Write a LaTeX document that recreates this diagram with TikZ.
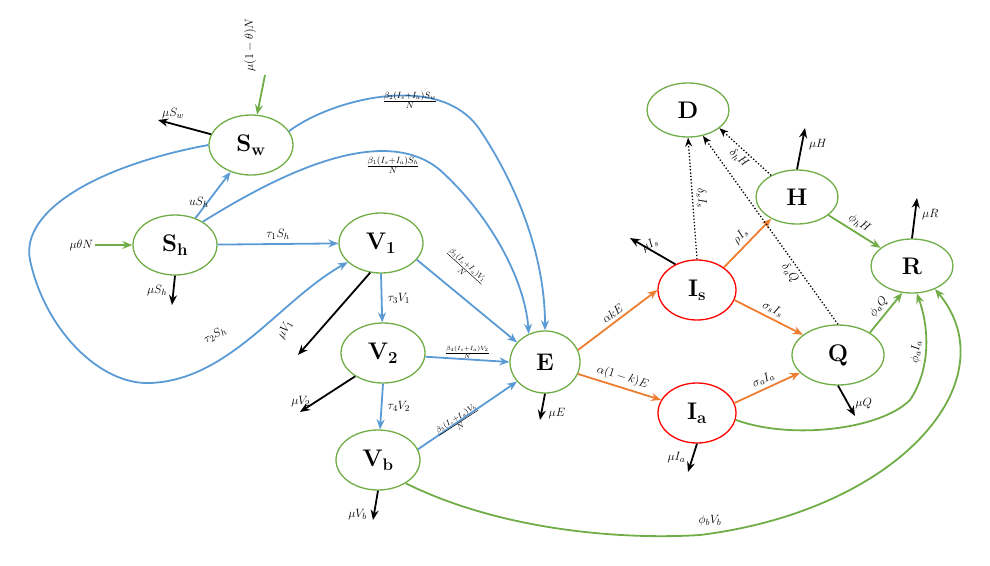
\documentclass[tikz,border=0pt]{standalone}
\usepackage{amsmath}
\usetikzlibrary{arrows.meta,shapes.geometric,positioning}
\begin{document}
\begin{tikzpicture}[x=1pt,y=-1pt,
 every node/.style={font=\fontsize{13}{15}\selectfont},
 gn/.style={draw={rgb,255:red,112;green,173;blue,71}, line width=1.3pt, ellipse, minimum width=84pt, minimum height=60pt, inner sep=0pt, font=\fontsize{24}{26}\selectfont\bfseries},
 rn/.style={gn, draw=red},
 bl/.style={draw={rgb,255:red,91;green,155;blue,213}, line width=1.8pt, -{Stealth[length=10pt,width=8pt]}},
 og/.style={bl, draw={rgb,255:red,237;green,125;blue,49}},
 gr/.style={bl, draw={rgb,255:red,112;green,173;blue,71}},
 bk/.style={bl, draw=black},
 dt/.style={draw=black, line width=1.3pt, dotted, -{Stealth[length=9pt,width=7pt]}},
 lb/.style={inner sep=1pt}]
\useasboundingbox (0,0) rectangle (990,565);
% nodes
\node[gn] (Sw) at (251,145) {S\textsubscript{w}};
\node[gn] (Sh) at (175,245) {S\textsubscript{h}};
\node[gn] (V1) at (381,243) {V\textsubscript{1}};
\node[gn] (V2) at (383,353) {V\textsubscript{2}};
\node[gn] (Vb) at (378,460) {V\textsubscript{b}};
\node[gn,minimum width=70pt,minimum height=62pt] (E) at (545,362) {E};
\node[rn,minimum width=78pt] (Is) at (697,290) {I\textsubscript{s}};
\node[rn,minimum width=78pt] (Ia) at (697,413) {I\textsubscript{a}};
\node[gn,minimum width=82pt,minimum height=54pt] (D) at (688,110) {D};
\node[gn,minimum width=82pt,minimum height=54pt] (H) at (797,197) {H};
\node[gn,minimum width=82pt,minimum height=54pt] (R) at (912,266) {R};
\node[gn,minimum width=92pt] (Q) at (838,355) {Q};
% free coordinates
\coordinate (a0) at (95,245);
\coordinate (a1) at (265,75);
\coordinate (a2) at (158,120);
\coordinate (a3) at (172,305);
\coordinate (a4) at (298,355);
\coordinate (a5) at (300,412);
\coordinate (a6) at (373,520);
\coordinate (a7) at (540,420);
\coordinate (a8) at (630,238);
\coordinate (a9) at (805,128);
\coordinate (a10) at (917,198);
\coordinate (a11) at (688,472);
\coordinate (a12) at (855,416);
% inflows and deaths
\draw[gr] (a0) -- (Sh) node[pos=0,left,lb] {$\mu\theta N$};
\draw[gr] (a1) -- (Sw);
\node[rotate=90] at (250,45) {$\mu(1-\theta)N$};
\draw[bk] (Sw) -- (a2) node[pos=1,above right=-3pt and 0pt] {$\mu S_w$};
\draw[bk] (Sh.south) -- (a3) node[pos=0.5,left=2pt] {$\mu S_h$};
\draw[bk] (V1.250) -- (a4);
\node[rotate=60] at (285,330) {$\mu V_1$};
\draw[bk] (V2.220) -- (a5) node[pos=0.7,left=2pt] {$\mu V_2$};
\draw[bk] (Vb.south) -- (a6) node[pos=0.8,left=3pt] {$\mu V_b$};
\draw[bk] (E.south) -- (a7) node[pos=0.9,right=4pt,yshift=4pt] {$\mu E$};
\draw[bk] (Is.130) -- (a8);
\node[rotate=30] at (650,245) {$\mu I_s$};
\draw[bk] (H.north) -- (a9) node[pos=0.6,right=3pt] {$\mu H$};
\draw[bk] (R.north) -- (a10) node[pos=0.6,right=3pt] {$\mu R$};
\draw[bk] (Ia.south) -- (a11) node[pos=0.5,left=3pt] {$\mu I_a$};
\draw[bk] (Q.south) -- (a12) node[pos=0.6,right=3pt] {$\mu Q$};
% blue flows
\draw[bl] (Sh) -- (Sw) node[midway,below left=-2pt and 0pt] {$uS_h$};
\draw[bl] (Sh) -- (V1) node[midway,above] {$\tau_1S_h$};
\draw[bl] (Sw.west) .. controls (100,165) and (20,210) .. (30,260) .. controls (45,330) and (100,385) .. (150,383) .. controls (230,380) and (280,300) .. (V1.210);
\node[rotate=28] at (215,335) {$\tau_2S_h$};
\draw[bl] (Sh.40) .. controls (270,180) and (380,120) .. (440,170) .. controls (490,215) and (525,280) .. (E.120);
\node at (393,165) {$\frac{\beta_1(I_s+I_a)S_h}{N}$};
\draw[bl] (Sw.20) .. controls (330,100) and (440,70) .. (480,130) .. controls (520,190) and (545,260) .. (E.90);
\node at (410,100) {$\frac{\beta_2(I_s+I_a)S_w}{N}$};
\draw[bl] (V1.-25) -- (E.145);
\node[rotate=-42,font=\fontsize{11}{12}\selectfont] at (465,268) {$\frac{\beta_3(I_s+I_a)V_1}{N}$};
\draw[bl] (V2.-5) -- (E.west) node[midway,above=-3pt,font=\fontsize{9}{10}\selectfont] {$\frac{\beta_4(I_s+I_a)V_2}{N}$};
\draw[bl] (Vb.15) -- (E.215);
\node[rotate=33,font=\fontsize{11}{12}\selectfont] at (458,422) {$\frac{\beta_5(I_s+I_a)V_b}{N}$};
\draw[bl] (V1.south) -- (V2) node[midway,right=2pt] {$\tau_3V_1$};
\draw[bl] (V2.south) -- (Vb) node[midway,right=2pt] {$\tau_4V_2$};
% orange flows
\draw[og] (E.20) -- (Is.west) node[midway,sloped,above] {$\alpha kE$};
\draw[og] (E.-20) -- (Ia.160) node[midway,sloped,above] {$\alpha(1-k)E$};
\draw[og] (Is.40) -- (H.220) node[midway,sloped,above] {$\rho I_s$};
\draw[og] (Is.-15) -- (Q.150) node[midway,sloped,above] {$\sigma_sI_s$};
\draw[og] (Ia.15) -- (Q.205) node[midway,sloped,above] {$\sigma_aI_a$};
% dotted deaths
\draw[dt] (Is.north) -- (D.south) node[midway,sloped,above] {$\delta_sI_s$};
\draw[dt] (Q.north) -- (D.-60) node[pos=0.3,sloped,below] {$\delta_aQ$};
\draw[dt] (H.140) -- (D.-30) node[midway,sloped,below] {$\delta_hH$};
% green recoveries
\draw[gr] (H.-30) -- (R.150) node[midway,sloped,above] {$\phi_hH$};
\draw[gr] (Q.35) -- (R.-110) node[midway,sloped,above] {$\phi_aQ$};
\draw[gr] (Ia.-10) .. controls (790,440) and (880,430) .. (910,400) .. controls (930,370) and (930,330) .. (R.-80);
\node[rotate=85] at (916,352) {$\phi_aI_a$};
\draw[gr] (Vb.-40) .. controls (500,530) and (620,540) .. (700,535) .. controls (900,510) and (1010,380) .. (R.-45);
\node at (710,520) {$\phi_bV_b$};
\end{tikzpicture}
\end{document}
